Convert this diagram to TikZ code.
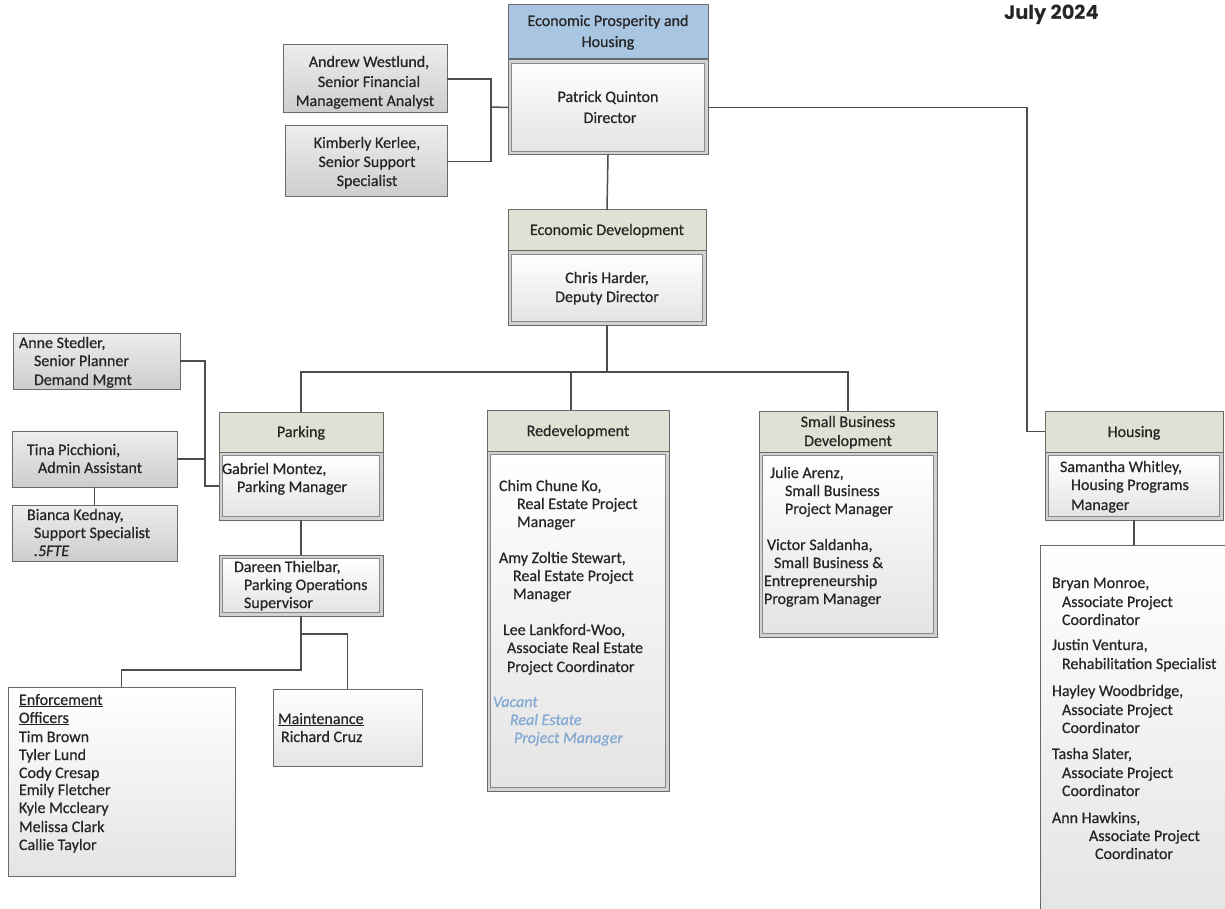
\documentclass[tikz,border=0pt]{standalone}
\usepackage{fontspec}
\setmainfont{Carlito}[FakeBold=0.6]
\newfontfamily\datefont{Poppins}
\usetikzlibrary{calc}
\definecolor{hdrc}{HTML}{E0E0D4}
\definecolor{bluec}{HTML}{A8C5E2}
\definecolor{linec}{HTML}{4D4D4D}
\definecolor{bordc}{HTML}{6A6A6A}
\definecolor{txtc}{HTML}{262626}
\definecolor{vacc}{HTML}{84A9D2}
\definecolor{bandc}{HTML}{D2D2D2}
\definecolor{grayt}{HTML}{EDEDED}
\definecolor{grayb}{HTML}{CDCDCD}
\definecolor{whb}{HTML}{E4E4E4}
\newcounter{lc}
\newcommand\tl[3]{\stepcounter{lc}\node[lbl,anchor=base west] (t\arabic{lc}) at (#1,#2+5) {#3};}
\newcommand\tc[3]{\stepcounter{lc}\node[lbl,anchor=base] (t\arabic{lc}) at (#1,#2+5) {#3};}
% style, name, x1, y1, x2, y2
\newcommand\boxat[6]{\node[#1, minimum width={(#5)-(#3)}, minimum height={(#6)-(#4)}] (#2) at ({((#3)+(#5))/2},{((#4)+(#6))/2}) {};}
% name, x1, y1, x2, y2
\newcommand\dblat[5]{\node[dblout, minimum width={(#4)-(#2)}, minimum height={(#5)-(#3)}] (#1) at ({((#2)+(#4))/2},{((#3)+(#5))/2}) {};
\node[dblin, minimum width={(#4)-(#2)-7}, minimum height={(#5)-(#3)-7}] (#1-in) at (#1.center) {};}
\tikzset{
  lbl/.style={inner sep=0pt, outer sep=0pt, text=txtc, font=\fontsize{16}{18}\selectfont},
  vac/.style={lbl, text=vacc, font=\fontsize{16}{18}\selectfont\itshape},
  basebox/.style={rectangle, inner sep=0pt, outer sep=0pt, draw=bordc, line width=1pt},
  hdr/.style={basebox, fill=hdrc},
  bluehdr/.style={basebox, fill=bluec},
  graybox/.style={basebox, top color=grayt, bottom color=grayb},
  whitebox/.style={basebox, top color=white, bottom color=whb},
  dblout/.style={basebox, fill=bandc},
  dblin/.style={basebox, draw=bordc!80, line width=0.8pt, top color=white, bottom color=whb},
  conn/.style={draw=linec, line width=1.5pt}
}
\begin{document}
\begin{tikzpicture}[x=1pt,y=-1pt]
\useasboundingbox (0,0) rectangle (1225,909);
\clip (0,0) rectangle (1225,909);
\fill[white] (0,0) rectangle (1225,909);

% ---------- boxes ----------
\boxat{bluehdr}{eph}{508}{5}{708}{59}
\dblat{pq}{508}{60}{708}{155}
\boxat{graybox}{aw}{283}{45}{447}{113}
\boxat{graybox}{kk}{285}{126}{447}{197}

\boxat{hdr}{edh}{508}{210}{706}{251}
\dblat{ch}{508}{251}{706}{325}

\boxat{graybox}{as}{13}{333}{180}{389}
\boxat{graybox}{tp}{12}{431}{177}{487}
\boxat{graybox}{bk}{12}{505}{177}{561}

\boxat{hdr}{pkh}{219}{412}{383}{452}
\dblat{gm}{219}{452}{383}{520}
\dblat{dt}{219}{555}{383}{616}
\boxat{whitebox}{eo}{8}{687}{235}{876}
\boxat{whitebox}{mt}{273}{689}{422}{766}

\boxat{hdr}{rdh}{487}{410}{669}{451}
\dblat{rd}{487}{451}{669}{791}

\boxat{hdr}{sbh}{759}{411}{937}{452}
\dblat{sb}{759}{452}{937}{637}

\boxat{hdr}{hsh}{1045}{411}{1223}{452}
\dblat{sw}{1045}{452}{1223}{520}
\boxat{whitebox}{hs}{1040}{545}{1240}{920}

% ---------- connectors ----------
\coordinate (j1) at (491,107);
\draw[conn] (aw.east) -| (j1);
\draw[conn] (kk.east) -| (j1);
\draw[conn] (j1) -- (pq.west);
\draw[conn] (pq.south) -- (edh.north);
\coordinate (bus) at (607,372);
\draw[conn] (ch.south) -- (bus);
\draw[conn] (pkh.north) |- (sbh.north |- bus) -- (sbh.north);
\coordinate (rdt) at ($(rdh.north)+(-7,0)$);
\draw[conn] (rdt) -- (rdt |- bus);
\coordinate (hj) at (1027,107);
\draw[conn] (pq.east) -- (pq.east -| hj) |- (hsh.west);
\coordinate (lj) at (205,459);
\draw[conn] (as.east) -| (lj |- gm.west) -- (gm.west);
\draw[conn] (tp.east) -- (lj);
\draw[conn] (tp.south) -- (bk.north);
\draw[conn] (gm.south) -- (dt.north);
\coordinate (dj) at (301,634);
\coordinate (dj2) at (301,670);
\draw[conn] (dt.south) -- (dj) -| (mt.north);
\draw[conn] (dj) -- (dj2) -| (eo.north);
\draw[conn] (sw.south) -- (sw.south |- hs.north);

% ---------- texts ----------
\stepcounter{lc}\node[lbl, text=txtc, font=\datefont\fontsize{19.5}{22}\selectfont\bfseries, anchor=base west] (t\arabic{lc}) at (1004,20) {July 2024};

\tc{608}{21}{Economic Prosperity and}
\tc{608}{42}{Housing}
\tc{608}{97}{Patrick Quinton}
\tc{610}{118}{Director}

\tc{369}{62}{Andrew Westlund,}
\tc{369}{82}{Senior Financial}
\tc{365}{101}{Management Analyst}
\tc{367}{143}{Kimberly Kerlee,}
\tc{367}{162}{Senior Support}
\tc{367}{181}{Specialist}

\tc{607}{230}{Economic Development}
\tc{607}{278}{Chris Harder,}
\tc{607}{297}{Deputy Director}

\tl{19}{343}{Anne Stedler,}
\tl{34}{361}{Senior Planner}
\tl{34}{380}{Demand Mgmt}
\tl{27}{450}{Tina Picchioni,}
\tl{38}{468}{Admin Assistant}
\tl{27}{515}{Bianca Kednay,}
\tl{34}{533}{Support Specialist}
\tl{34}{551}{\itshape .5FTE}

\tc{301}{432}{Parking}
\tl{222}{469}{Gabriel Montez,}
\tl{237}{487}{Parking Manager}
\tl{234}{567}{Dareen Thielbar,}
\tl{244}{585}{Parking Operations}
\tl{244}{603}{Supervisor}

\tl{19}{700}{\underline{Enforcement}}
\tl{19}{718}{\underline{Officers}}
\tl{19}{737}{Tim Brown}
\tl{19}{755}{Tyler Lund}
\tl{19}{773}{Cody Cresap}
\tl{19}{790}{Emily Fletcher}
\tl{19}{808}{Kyle Mccleary}
\tl{19}{827}{Melissa Clark}
\tl{19}{845}{Callie Taylor}
\tl{278}{719}{\underline{Maintenance}}
\tl{281}{737}{Richard Cruz}

\tc{578}{431}{Redevelopment}
\tl{499}{486}{Chim Chune Ko,}
\tl{517}{504}{Real Estate Project}
\tl{517}{522}{Manager}
\tl{499}{558}{Amy Zoltie Stewart,}
\tl{513}{576}{Real Estate Project}
\tl{513}{594}{Manager}
\tl{503}{630}{Lee Lankford-Woo,}
\tl{507}{648}{Associate Real Estate}
\tl{507}{667}{Project Coordinator}
\stepcounter{lc}\node[vac,anchor=base west] (t\arabic{lc}) at (493,707) {Vacant};
\stepcounter{lc}\node[vac,anchor=base west] (t\arabic{lc}) at (510,725) {Real Estate};
\stepcounter{lc}\node[vac,anchor=base west] (t\arabic{lc}) at (514,743) {Project Manager};

\tc{848}{422}{Small Business}
\tc{848}{441}{Development}
\tl{770}{473}{Julie Arenz,}
\tl{785}{491}{Small Business}
\tl{785}{509}{Project Manager}
\tl{767}{545}{Victor Saldanha,}
\tl{774}{563}{Small Business \&}
\tl{764}{581}{Entrepreneurship}
\tl{764}{599}{Program Manager}

\tc{1134}{432}{Housing}
\tl{1060}{467}{Samantha Whitley,}
\tl{1071}{485}{Housing Programs}
\tl{1071}{505}{Manager}

\tl{1052}{583}{Bryan Monroe,}
\tl{1062}{602}{Associate Project}
\tl{1062}{620}{Coordinator}
\tl{1052}{645}{Justin Ventura,}
\tl{1062}{664}{Rehabilitation Specialist}
\tl{1052}{691}{Hayley Woodbridge,}
\tl{1062}{710}{Associate Project}
\tl{1062}{728}{Coordinator}
\tl{1052}{754}{Tasha Slater,}
\tl{1062}{773}{Associate Project}
\tl{1062}{791}{Coordinator}
\tl{1052}{818}{Ann Hawkins,}
\tl{1089}{836}{Associate Project}
\tl{1095}{854}{Coordinator}
\end{tikzpicture}
\end{document}
